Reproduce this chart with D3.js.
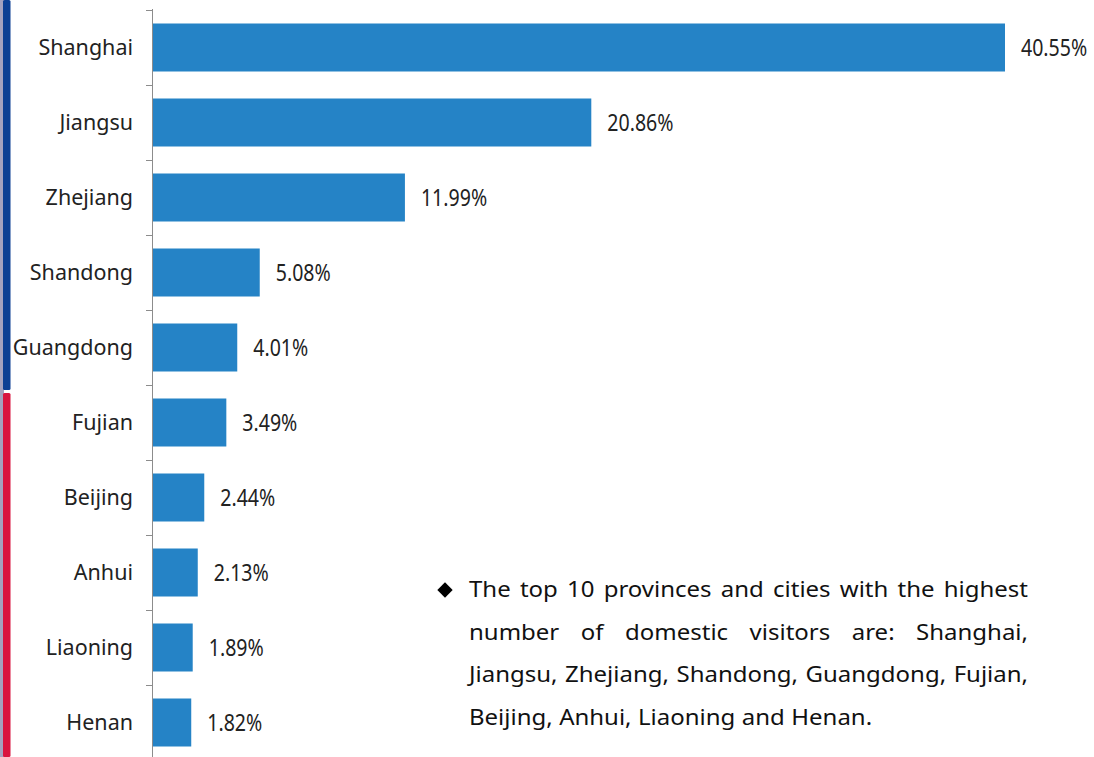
<!DOCTYPE html>
<html>
<head>
<meta charset="utf-8">
<script src="https://cdn.jsdelivr.net/npm/d3@7"></script>
<style>
  html, body { margin: 0; padding: 0; background: #fff; }
  svg { display: block; }
</style>
</head>
<body>
<div id="chart"></div>
<script>
/* ── data ── */
const provinces = ['Shanghai','Jiangsu','Zhejiang','Shandong','Guangdong',
                   'Fujian','Beijing','Anhui','Liaoning','Henan'];
const shares    = [40.55, 20.86, 11.99, 5.08, 4.01, 3.49, 2.44, 2.13, 1.89, 1.82];
const noteLines = [
  'The top 10 provinces and cities with the highest',
  'number of domestic visitors are: Shanghai,',
  'Jiangsu, Zhejiang, Shandong, Guangdong, Fujian,',
  'Beijing, Anhui, Liaoning and Henan.'
];

const W = 1094, H = 757;
const BAR = '#2583c6';
const FONT = '"Noto Sans", "Open Sans", sans-serif';

const svg = d3.select('#chart').append('svg')
  .attr('width', W).attr('height', H);

/* left edge strips (cropped slide frame) */
svg.append('rect').attr('x', 0).attr('y', 0).attr('width', 4).attr('height', H).attr('fill', '#a4a2bf');
svg.append('rect').attr('x', 3).attr('y', 0).attr('width', 7.5).attr('height', 390)
  .attr('rx', 1.5).attr('fill', '#0c3f94');
svg.append('rect').attr('x', 3).attr('y', 393).attr('width', 7.5).attr('height', H - 393)
  .attr('rx', 1.5).attr('fill', '#d9143f');

/* scales */
const data = provinces.map((p, i) => ({ name: p, value: shares[i] }));

const y = d3.scaleBand()
  .domain(provinces)
  .range([10, 760])
  .paddingInner(0.36)
  .paddingOuter(0.18);

const x = d3.scaleLinear()
  .domain([0, d3.max(shares)])
  .range([153, 1005]);

/* bars */
svg.append('g')
  .selectAll('rect')
  .data(data)
  .join('rect')
    .attr('x', x(0))
    .attr('y', d => y(d.name))
    .attr('width', d => x(d.value) - x(0))
    .attr('height', y.bandwidth())
    .attr('fill', BAR);

/* axis: vertical line + ticks at band boundaries */
const ax = svg.append('g').attr('stroke', '#8c8c8c').attr('stroke-width', 1);
ax.append('line')
  .attr('x1', 152.5).attr('x2', 152.5)
  .attr('y1', 9).attr('y2', H);
const bounds = provinces.map(p => y(p) - y.step() * y.paddingInner() / 2);
ax.selectAll('line.tick')
  .data(bounds)
  .join('line')
    .attr('class', 'tick')
    .attr('x1', 146).attr('x2', 152.5)
    .attr('y1', d => Math.round(d) + 0.5)
    .attr('y2', d => Math.round(d) + 0.5);

/* category labels */
svg.append('g')
  .selectAll('text')
  .data(data)
  .join('text')
    .attr('x', 133)
    .attr('y', d => y(d.name) + y.bandwidth() / 2)
    .attr('dy', '0.35em')
    .attr('text-anchor', 'end')
    .attr('font-family', FONT)
    .attr('font-size', 21.5)
    .attr('fill', '#222')
    .text(d => d.name);

/* value labels – narrow, tall digits (squeezed horizontally) */
const vals = svg.append('g')
  .selectAll('text')
  .data(data)
  .join('text')
    .attr('x', d => x(d.value) + 16)
    .attr('y', d => y(d.name) + y.bandwidth() / 2)
    .attr('dy', '0.36em')
    .attr('font-family', FONT)
    .attr('font-size', 23)
    .attr('fill', '#222')
    .text(d => d.value.toFixed(2) + '%');
vals.each(function () {
  const w = this.getComputedTextLength();
  d3.select(this).attr('textLength', w * 0.85).attr('lengthAdjust', 'spacingAndGlyphs');
});

/* note block: diamond bullet + justified lines */
const note = svg.append('g')
  .attr('font-family', FONT)
  .attr('font-size', 21.5)
  .attr('fill', '#111');

note.append('path')
  .attr('d', d3.symbol(d3.symbolDiamond2, 150)())
  .attr('transform', 'translate(445,590)')
  .attr('fill', '#000');

const left = 469, right = 1028, base0 = 597, lead = 42.7, stretch = 1.115;
noteLines.forEach((line, li) => {
  const words = line.split(' ');
  const g = note.append('g');
  const nodes = words.map(w => g.append('text').attr('y', base0 + li * lead).text(w));
  const widths = nodes.map(n => n.node().getComputedTextLength() * stretch);
  nodes.forEach((n, i) => n.attr('textLength', widths[i]).attr('lengthAdjust', 'spacingAndGlyphs'));
  const isLast = li === noteLines.length - 1;
  const gap = isLast
    ? 6.5
    : (right - left - d3.sum(widths)) / Math.max(1, words.length - 1);
  let cx = left;
  nodes.forEach((n, i) => { n.attr('x', cx); cx += widths[i] + gap; });
});
</script>
</body>
</html>
